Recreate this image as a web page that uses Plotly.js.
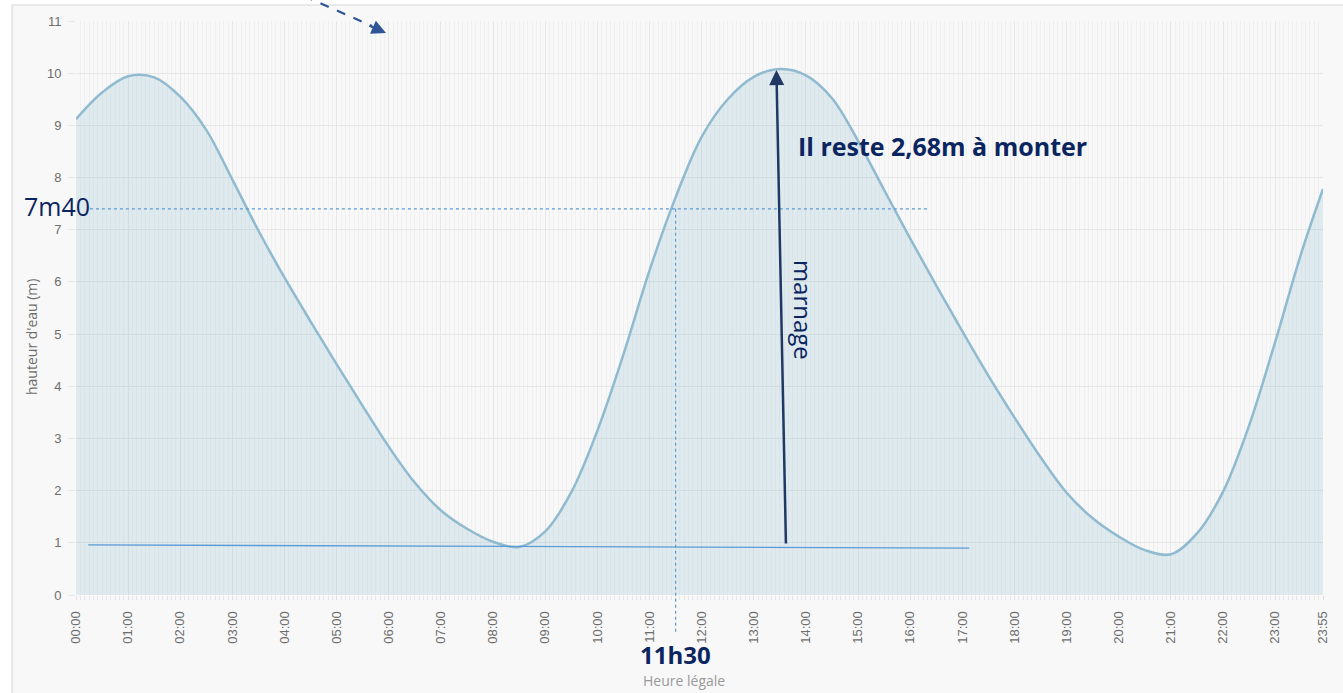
<!DOCTYPE html>
<html>
<head>
<meta charset="utf-8">
<script src="https://cdn.plot.ly/plotly-3.0.1.min.js"></script>
<style>
html,body{margin:0;padding:0;background:#ffffff;}
#chart{width:1343px;height:693px;}
</style>
</head>
<body>
<div id="chart"></div>
<script>
// ---- data ----
const times = ["00:00","00:30","01:00","01:30","02:00","02:30","03:00","03:30","04:00","04:30",
  "05:00","05:30","06:00","06:30","07:00","07:30","08:00","08:30","09:00","09:30",
  "10:00","10:30","11:00","11:30","12:00","12:30","13:00","13:30","14:00","14:30",
  "15:00","15:30","16:00","16:30","17:00","17:30","18:00","18:30","19:00","19:30",
  "20:00","20:30","21:00","21:30","22:00","22:30","23:00","23:30","23:55"];
const heights = [9.12,9.63,9.94,9.92,9.55,8.91,7.96,6.98,6.08,5.24,
  4.42,3.62,2.84,2.15,1.62,1.27,1.02,0.92,1.22,1.97,
  3.15,4.61,6.22,7.62,8.78,9.50,9.93,10.08,9.96,9.52,
  8.70,7.76,6.83,5.93,5.05,4.20,3.40,2.64,1.96,1.47,
  1.12,0.86,0.78,1.18,1.98,3.25,4.85,6.55,7.78];
const tickLabels = ["00:00","01:00","02:00","03:00","04:00","05:00","06:00","07:00","08:00","09:00",
  "10:00","11:00","12:00","13:00","14:00","15:00","16:00","17:00","18:00","19:00",
  "20:00","21:00","22:00","23:00","23:55"];

// annotation values
const refHeight = 7.40;            // 7m40
const refTime = "11:30";
const refLineEnd = "16:21";
const lowLine = {t: ["00:14","17:08"], h: [0.96, 0.90]};
const marnageArrow = {t: ["13:37","13:26"], h: [0.96, 10.06]};
const remaining = "2,68";

// ---- helpers ----
const toH = s => { const p = s.split(":"); return (+p[0]) + (+p[1]) / 60; };
const xs = times.map(toH);
const tickVals = tickLabels.map(toH);
const xMax = toH("23:55");
const yMax = 11;
const pxX = px => (px - 76) / 1247;   // paper x from pixel
const pxY = py => (595 - py) / 574;   // paper y from pixel

const navy = "#0b2560";
const lightBlue = "#5b9bd5";

const trace = {
  x: xs, y: heights, type: "scatter", mode: "lines",
  line: {shape: "spline", smoothing: 1, color: "#8fbad0", width: 2.5},
  fill: "tozeroy", fillcolor: "rgba(124,181,206,0.2)",
  hoverinfo: "skip", showlegend: false
};

const layout = {
  width: 1343, height: 693,
  margin: {l: 76, r: 20, t: 21, b: 98},
  paper_bgcolor: "#ffffff",
  plot_bgcolor: "#f4f4f4",
  showlegend: false,
  font: {family: "Liberation Sans, Arial, sans-serif", color: "#6d6d6d"},
  xaxis: {
    range: [0, xMax], tickmode: "array", tickvals: tickVals, ticktext: tickLabels,
    tickangle: -90, tickfont: {size: 13, color: "#6d6d6d"},
    showgrid: true, gridcolor: "rgba(0,0,0,0.035)", gridwidth: 1,
    ticks: "outside", ticklen: 4, tickcolor: "#e0e0e0", ticklabelstandoff: 6,
    minor: {dtick: 1/12, showgrid: true, gridcolor: "rgba(0,0,0,0.03)", ticks: "outside", ticklen: 4, tickcolor: "#e6e6e6"},
    zeroline: false, showline: false, fixedrange: true
  },
  yaxis: {
    range: [0, yMax], dtick: 1, tickfont: {size: 13, color: "#6d6d6d"},
    showgrid: true, gridcolor: "#e6e6e6", gridwidth: 1,
    ticks: "outside", ticklen: 7, tickcolor: "#e6e6e6", ticklabelstandoff: 4,
    zeroline: false, showline: false, fixedrange: true
  },
  shapes: [
    // chart container frame
    {type: "rect", xref: "paper", yref: "paper", layer: "below",
     x0: pxX(12), x1: pxX(1360), y0: pxY(720), y1: pxY(5),
     fillcolor: "#f8f8f8", line: {color: "#e2e2e2", width: 1.5}},
    // horizontal dotted at 7m40
    {type: "line", xref: "x", yref: "y", x0: toH("00:16"), x1: toH(refLineEnd), y0: refHeight, y1: refHeight,
     line: {color: lightBlue, width: 1.2, dash: "dot"}},
    // vertical dotted at 11h30
    {type: "line", xref: "x", yref: "paper", x0: toH(refTime), x1: toH(refTime), y0: refHeight / yMax, y1: pxY(632),
     line: {color: lightBlue, width: 1.2, dash: "dot"}},
    // low water line
    {type: "line", xref: "x", yref: "y", x0: toH(lowLine.t[0]), x1: toH(lowLine.t[1]), y0: lowLine.h[0], y1: lowLine.h[1],
     line: {color: lightBlue, width: 1.3}},
    // dashed arrow shaft at top
    {type: "line", xref: "paper", yref: "paper", x0: pxX(304), y0: pxY(-4), x1: pxX(372), y1: pxY(26),
     line: {color: "#2f5597", width: 2.2, dash: "dash"}}
  ],
  annotations: [
    // marnage arrow
    {xref: "x", yref: "y", axref: "x", ayref: "y",
     x: toH(marnageArrow.t[1]), y: marnageArrow.h[1], ax: toH(marnageArrow.t[0]), ay: marnageArrow.h[0],
     text: "", showarrow: true, arrowhead: 2, arrowsize: 1.2, arrowwidth: 2.5, arrowcolor: "#1f3864", standoff: 0},
    // dashed arrow head
    {xref: "paper", yref: "paper", x: pxX(386), y: pxY(33), ax: -18, ay: -8,
     text: "", showarrow: true, arrowhead: 2, arrowsize: 1.3, arrowwidth: 2.2, arrowcolor: "#2f5597", standoff: 0},
    {xref: "paper", yref: "y", x: pxX(92), y: refHeight + 0.05, xanchor: "right", yanchor: "middle",
     text: "7m40", showarrow: false, font: {family: "Open Sans", size: 25, color: navy}},
    {xref: "x", yref: "paper", x: toH(refTime), y: pxY(654), xanchor: "center", yanchor: "middle", borderpad: 0,
     text: "<b>11h30</b>", showarrow: false, font: {family: "Open Sans", size: 24, color: navy}},
    {xref: "x", yref: "y", x: toH("13:48"), y: 8.6, xanchor: "left", yanchor: "middle",
     text: "<b>Il reste " + remaining + "m à monter</b>", showarrow: false, font: {family: "Open Sans", size: 25, color: navy}},
    {xref: "x", yref: "y", x: toH("13:58"), y: 5.46, xanchor: "center", yanchor: "middle", textangle: 90,
     text: "marnage", showarrow: false, font: {family: "Open Sans", size: 24, color: navy}},
    {xref: "paper", yref: "paper", x: pxX(32), y: pxY(337), xanchor: "center", yanchor: "middle", textangle: -90,
     text: "hauteur d'eau (m)", showarrow: false, font: {family: "Open Sans", size: 14, color: "#6d6d6d"}},
    {xref: "x", yref: "paper", x: toH("11:40"), y: pxY(681), xanchor: "center", yanchor: "middle", borderpad: 0,
     text: "Heure légale", showarrow: false, font: {family: "Open Sans", size: 14, color: "#999"}}
  ]
};

Plotly.newPlot("chart", [trace], layout, {displayModeBar: false, staticPlot: true});
</script>
</body>
</html>
